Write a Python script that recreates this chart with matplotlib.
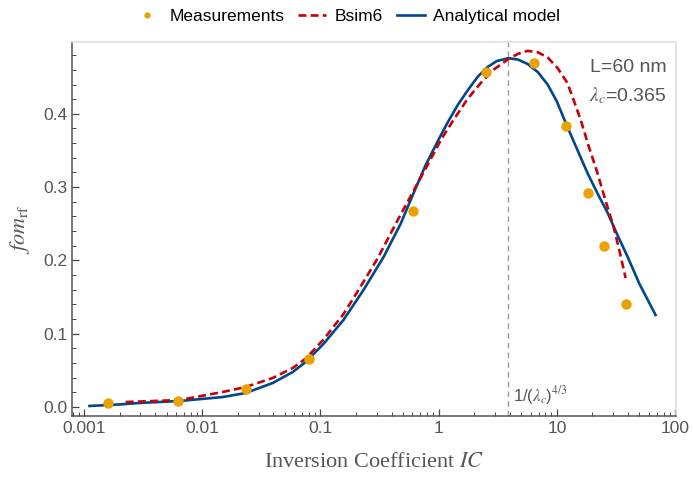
import matplotlib
matplotlib.use("Agg")
import matplotlib.pyplot as plt
from matplotlib.ticker import FixedLocator, LogLocator, NullFormatter, MultipleLocator

plt.rcParams["font.family"] = ["Liberation Sans", "DejaVu Sans"]
plt.rcParams["mathtext.fontset"] = "stix"

# measured points (IC, fom_rf)
meas_ic = [0.0016, 0.0062, 0.0233, 0.0795, 0.603, 2.5, 6.37, 11.9, 18.2, 24.9, 38.2]
meas_fom = [0.0055, 0.008, 0.0245, 0.0655, 0.267, 0.457, 0.469, 0.383, 0.292, 0.220, 0.1405]

# Bsim6 curve
bsim_ic = [0.00225, 0.00644, 0.0149, 0.0233, 0.0394, 0.0582, 0.075, 0.106, 0.157, 0.22,
           0.305, 0.45, 0.638, 0.823, 1.05, 1.34, 1.75, 2.27, 2.9, 3.84, 4.7, 5.66, 6.9,
           8.36, 10.2, 12.3, 14.0, 15.9, 18.5, 22.1, 26.0, 30.2, 34.0, 38.2]
bsim_fom = [0.0068, 0.0095, 0.0205, 0.0273, 0.0396, 0.0532, 0.066, 0.092, 0.127, 0.165,
            0.203, 0.255, 0.300, 0.333, 0.365, 0.392, 0.420, 0.442, 0.460, 0.474, 0.482, 0.486, 0.484,
            0.477, 0.462, 0.442, 0.417, 0.392, 0.357, 0.319, 0.280, 0.246, 0.212, 0.176]

# analytical model curve
model_ic = [0.00111, 0.002, 0.00295, 0.00644, 0.0149, 0.0233, 0.0394, 0.0582, 0.075, 0.106,
            0.157, 0.232, 0.343, 0.477, 0.614, 0.776, 1.0, 1.19, 1.45, 1.76, 2.15, 2.6, 3.1,
            3.9, 4.7, 5.66, 6.9, 8.36, 10.0, 12.3, 15.0, 18.2, 22.0, 26.9, 32.5, 39.7, 50.0, 68.5]
model_fom = [0.0014, 0.0035, 0.0055, 0.0082, 0.0136, 0.0191, 0.0327, 0.0477, 0.0614, 0.086,
             0.119, 0.160, 0.205, 0.250, 0.292, 0.330, 0.365, 0.388, 0.412, 0.432, 0.451, 0.464, 0.472,
             0.476, 0.474, 0.468, 0.457, 0.440, 0.417, 0.382, 0.350, 0.319, 0.292, 0.265, 0.235, 0.205,
             0.168, 0.1255]

lam_c = 0.365
ic_peak = 1 / lam_c ** (4 / 3)

txt = "#555555"
fig = plt.figure(figsize=(6.93, 4.79), dpi=100)
ax = fig.add_axes([0.1039, 0.1315, 0.8716, 0.7808])

ax.axvline(ic_peak, color="#999999", lw=1.0, ls=(0, (4, 3)), zorder=1)
ax.plot(model_ic, model_fom, color="#00478C", lw=1.9, label="Analytical model", zorder=3)
ax.plot(bsim_ic, bsim_fom, color="#C8000A", lw=1.9, ls=(0, (3, 1.6)), label="Bsim6", zorder=4)
ax.plot(meas_ic, meas_fom, "o", color="#E8A202", ms=7.5, mec="none", label="Measurements", zorder=5)

ax.set_xscale("log")
ax.set_xlim(0.00079, 102)
ax.set_ylim(-0.0123, 0.498)

ax.xaxis.set_major_locator(FixedLocator([0.001, 0.01, 0.1, 1, 10, 100]))
ax.set_xticklabels(["0.001", "0.01", "0.1", "1", "10", "100"])
ax.xaxis.set_minor_locator(LogLocator(base=10, subs=range(2, 10)))
ax.xaxis.set_minor_formatter(NullFormatter())
ax.yaxis.set_major_locator(MultipleLocator(0.1))
ax.yaxis.set_minor_locator(MultipleLocator(0.02))
ax.yaxis.set_major_formatter(plt.FuncFormatter(lambda v, p: "%.1f" % v))

ax.tick_params(which="both", direction="in", colors="#444444", labelcolor=txt, labelsize=12.5)
ax.tick_params(which="major", length=5, width=0.9)
ax.tick_params(which="minor", length=3, width=0.7)
for s in ["left", "bottom"]:
    ax.spines[s].set_color("#555555")
    ax.spines[s].set_linewidth(1.1)
for s in ["top", "right"]:
    ax.spines[s].set_color("#dddddd")
    ax.spines[s].set_linewidth(1.1)

ax.set_xlabel(r"Inversion Coefficient $IC$", family="Liberation Serif", fontsize=16, color=txt, labelpad=12)
ax.set_ylabel(r"$fom_{\mathrm{rf}}$", fontsize=16, color=txt, labelpad=8)

ax.text(0.985, 0.955, "L=60 nm", transform=ax.transAxes, ha="right", va="top", fontsize=14, color=txt)
ax.text(0.985, 0.885, r"$\lambda_c$=0.365", transform=ax.transAxes, ha="right", va="top", fontsize=14, color=txt)
ax.text(ic_peak * 1.1, 0.0, r"1/($\lambda_c$)$^{4/3}$", ha="left", va="bottom", fontsize=12, color=txt)

h, l = ax.get_legend_handles_labels()
order = [2, 1, 0]
fig.legend([h[i] for i in order], [l[i] for i in order], loc="center", bbox_to_anchor=(0.5, 0.965),
           ncol=3, frameon=False, fontsize=12.5, handlelength=1.6, handletextpad=0.5, columnspacing=0.8,
           markerscale=0.6)

fig.savefig("out.png", dpi=100)
